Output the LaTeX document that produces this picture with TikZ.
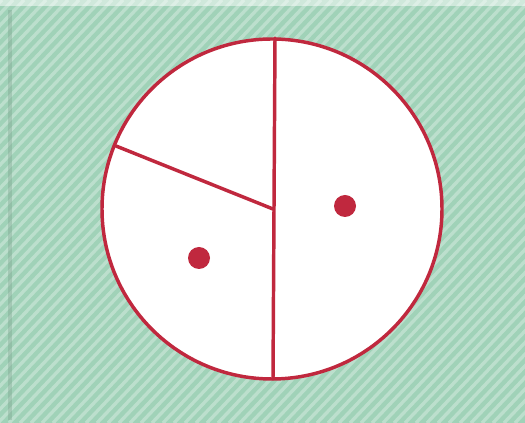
\documentclass[tikz,border=0pt]{standalone}
\begin{document}
\begin{tikzpicture}[x=0.75pt,y=-0.75pt]
\definecolor{pencilgreen}{RGB}{160,210,184}
\definecolor{pencilred}{RGB}{192,40,62}
\tikzset{redline/.style={draw=pencilred,line width=2.6pt,line cap=round},
         reddot/.style={fill=pencilred}}
\useasboundingbox (0,0) rectangle (525,423);
\fill[pencilgreen] (0,0) rectangle (525,423);
\begin{scope}
\clip (0,0) rectangle (525,423);
\foreach \i in {-420,-409,...,540}
  \draw[white,opacity=0.3,line width=2.5pt] (\i,423) -- (\i+400,0);
\end{scope}
\fill[white,opacity=0.5] (0,0) rectangle (525,6);
\draw[pencilgreen!75!black,opacity=0.35,line width=3pt] (10,10) -- (10,420);
\coordinate (c) at (272,209);
\coordinate (top) at (275,38);
\coordinate (bot) at (273,379);
\coordinate (hub) at (273,209);
\coordinate (rim) at (116,146);
\filldraw[fill=white,redline] (c) circle (170);
\draw[redline] (top) -- (bot);
\draw[redline] (hub) -- (rim);
\fill[reddot] (345,206) circle (11);
\fill[reddot] (199,258) circle (11);
\end{tikzpicture}
\end{document}
